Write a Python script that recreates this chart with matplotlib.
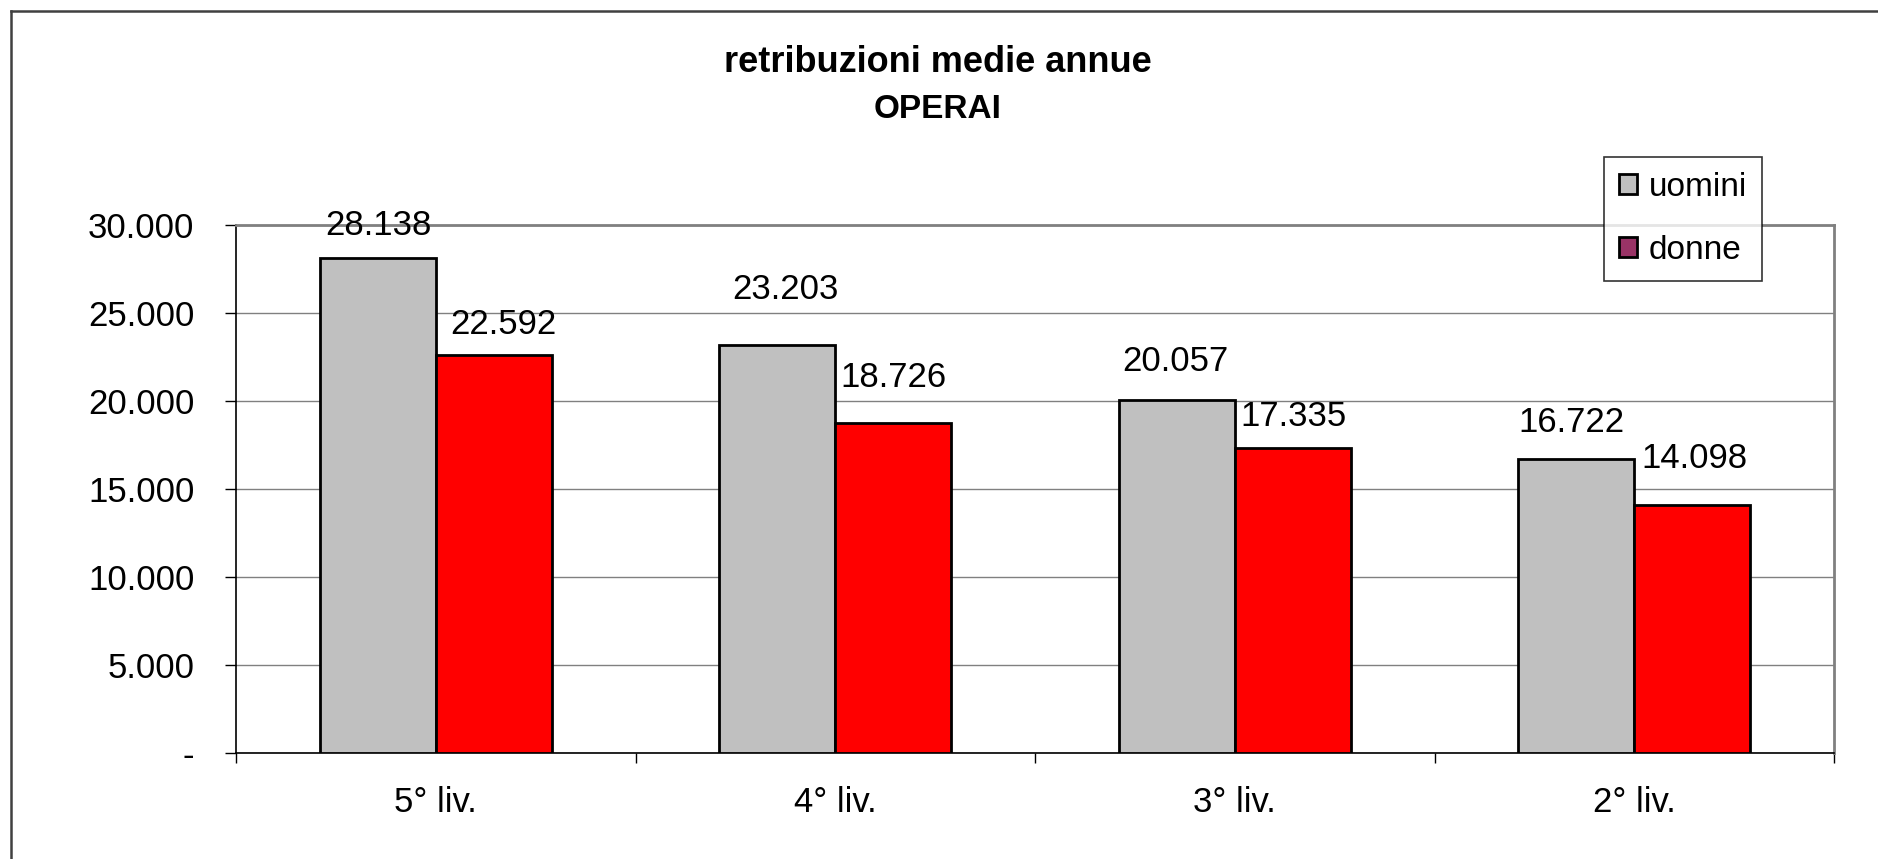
import matplotlib
matplotlib.use("Agg")
import matplotlib.pyplot as plt
from matplotlib.patches import Patch
from matplotlib.lines import Line2D
from matplotlib.ticker import FuncFormatter, FixedLocator
import numpy as np

plt.rcParams['font.family'] = ['Liberation Sans', 'DejaVu Sans']

# ---- data ----
categories = ["5° liv.", "4° liv.", "3° liv.", "2° liv."]
uomini = [28138, 23203, 20057, 16722]
donne = [22592, 18726, 17335, 14098]
series_names = ["uomini", "donne"]
title_line1 = "retribuzioni medie annue"
title_line2 = "OPERAI"
yticks = [0, 5000, 10000, 15000, 20000, 25000, 30000]

# ---- style ----
# label offsets (px) relative to bar top centre, as in the reference
off_u = [(1, -32), (8, -55), (-1, -38), (-5, -36)]
off_d = [(10, -31), (0, -46), (1, -31), (2, -46)]

W, H, DPI = 1878, 859, 100
fig = plt.figure(figsize=(W / DPI, H / DPI), dpi=DPI)
L, R, T, B = 236, 1834, 225, 753
ax = fig.add_axes([L / W, 1 - B / H, (R - L) / W, (B - T) / H])

x = np.arange(len(categories))
bw = 0.29
ax.bar(x - bw / 2, uomini, bw, color="#c0c0c0", edgecolor="black", linewidth=2, zorder=3)
ax.bar(x + bw / 2, donne, bw, color="#ff0000", edgecolor="black", linewidth=2, zorder=3)

def fmt(v):
    return f"{v:,}".replace(",", ".")

px2pt = 72 / DPI
for i in range(len(categories)):
    ax.annotate(fmt(uomini[i]), (x[i] - bw / 2, uomini[i]),
                xytext=(off_u[i][0] * px2pt, -off_u[i][1] * px2pt), textcoords="offset points",
                ha="center", va="center", fontsize=25, zorder=4)
    ax.annotate(fmt(donne[i]), (x[i] + bw / 2, donne[i]),
                xytext=(off_d[i][0] * px2pt, -off_d[i][1] * px2pt), textcoords="offset points",
                ha="center", va="center", fontsize=25, zorder=4)

ax.set_xlim(-0.5, len(categories) - 0.5)
ax.set_ylim(0, 30000)
ax.set_yticks(yticks)
ax.yaxis.set_major_formatter(FuncFormatter(lambda v, p: "-" if v == 0 else fmt(int(v))))
ax.tick_params(axis="y", direction="out", length=8, width=1, pad=22, labelsize=25)
ax.set_xticks(x)
ax.set_xticklabels(categories)
ax.tick_params(axis="x", which="major", length=0, pad=24, labelsize=25)
ax.xaxis.set_minor_locator(FixedLocator(np.arange(-0.5, len(categories), 1.0)))
ax.tick_params(axis="x", which="minor", direction="out", length=7, width=1)

ax.yaxis.grid(True, color="#808080", linewidth=1, zorder=0)
ax.set_axisbelow(True)
for s in ["left", "bottom"]:
    ax.spines[s].set_color("black")
    ax.spines[s].set_linewidth(1.2)
for s in ["top", "right"]:
    ax.spines[s].set_color("#808080")
    ax.spines[s].set_linewidth(2)

# title
fig.text(938 / W, 1 - 62 / H, title_line1, ha="center", va="center",
         fontsize=26, fontweight="bold")
fig.text(938 / W, 1 - 110 / H, title_line2, ha="center", va="center",
         fontsize=24, fontweight="bold")

# legend
handles = [Patch(facecolor="#c0c0c0", edgecolor="black", linewidth=2),
           Patch(facecolor="#993366", edgecolor="black", linewidth=2)]
leg = fig.legend(handles, series_names, loc="upper left",
                 bbox_to_anchor=(1604 / W, 1 - 157 / H), fontsize=24,
                 frameon=True, fancybox=False, shadow=False,
                 handlelength=0.55, handleheight=0.55, handletextpad=0.35,
                 labelspacing=0.95, borderpad=0.45, borderaxespad=0)
leg.get_frame().set_edgecolor("black")
leg.get_frame().set_linewidth(1.2)

# outer frame (top and left edges visible)
fig.add_artist(Line2D([11 / W, 1], [1 - 11 / H, 1 - 11 / H], transform=fig.transFigure,
                      color="#404040", linewidth=1.8))
fig.add_artist(Line2D([11 / W, 11 / W], [0, 1 - 11 / H], transform=fig.transFigure,
                      color="#404040", linewidth=1.8))

fig.savefig("out.png", dpi=DPI)
